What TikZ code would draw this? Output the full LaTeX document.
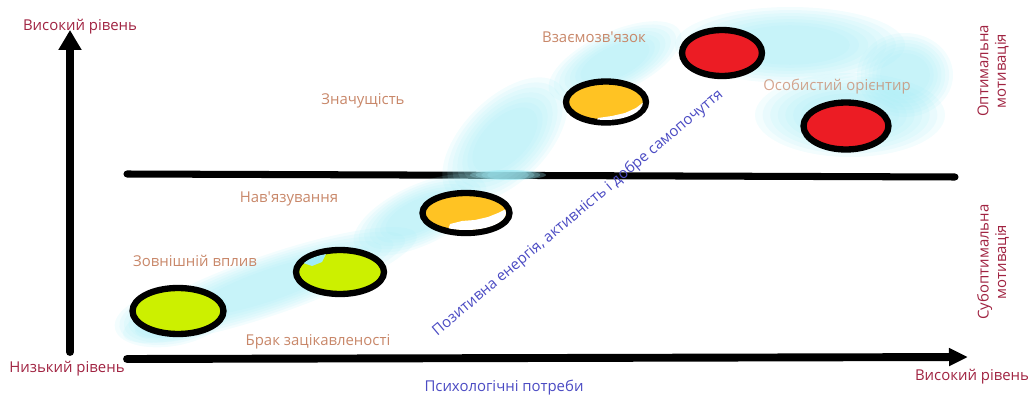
\documentclass[tikz,border=0pt]{standalone}
\usepackage{fontspec}
\setmainfont{Open Sans}[Ligatures=TeXOff]
\usetikzlibrary{positioning, arrows.meta, shapes.geometric}

\definecolor{levelred}{RGB}{160,35,65}
\definecolor{stagetan}{RGB}{200,135,105}
\definecolor{needblue}{RGB}{75,75,195}
\definecolor{discgreen}{RGB}{204,240,0}
\definecolor{discorange}{RGB}{255,195,35}
\definecolor{discred}{RGB}{236,28,36}
\definecolor{cloudcyan}{RGB}{160,235,245}

\begin{document}
\begin{tikzpicture}[
    x=0.02cm, y=-0.02cm,
    every node/.style={font=\fontsize{8.5}{10}\selectfont},
    axis/.style={line width=4.5pt, line cap=round},
    band/.style={line width=4pt, line cap=round},
    disc/.style={ellipse, draw, line width=3.6pt, inner sep=0pt},
    low/.style={disc, fill=discgreen},
    mid/.style={disc, fill=discorange},
    high/.style={disc, fill=discred},
    stage/.style={text=stagetan},
    level/.style={text=levelred},
    zone/.style={level, rotate=90, align=center},
    need/.style={text=needblue},
    cloud/.style={fill=cloudcyan, opacity=0.12}
]
    \useasboundingbox (0,0) rectangle (1029,395);

    % axes and the border between the two zones
    \coordinate (ybase) at (70,352);
    \coordinate (ytop) at (70,30);
    \coordinate (xbase) at (127,359);
    \coordinate (xtop) at (968,357);
    \coordinate (splitL) at (127,174);
    \coordinate (splitR) at (955,177);
    \draw[axis, -{Triangle[length=0.4cm, width=0.44cm]}] (ybase) -- (ytop);
    \draw[axis, -{Triangle[length=0.38cm, width=0.34cm]}] (xbase) -- (xtop);
    \draw[band] (splitL) -- (splitR);

    % painted cyan clouds
    \foreach \cx/\cy/\rx/\ry/\ang in {270/285/155/30/19, 172/318/58/28/10, 420/215/72/30/25,
        505/140/78/42/45, 615/62/72/30/25, 790/45/115/38/0,
        850/115/95/42/0, 905/75/48/42/0}{
        \foreach \k in {1.0,0.92,...,0.44}{
            \pgfmathsetmacro\rxx{\k*\rx}
            \pgfmathsetmacro\ryy{\k*\ry}
            \fill[cloud, rotate around={\ang:(\cx,\cy)}] (\cx,\cy) ellipse [x radius=\rxx, y radius=\ryy];
        }
    }
    % the cloud painted over the border line
    \foreach \k in {1.0,0.85,0.7,0.55}{
        \pgfmathsetmacro\rxx{\k*38}
        \fill[cloudcyan, opacity=0.3] (508,175) ellipse [x radius=\rxx, y radius=5];
    }

    % stages
    \node[low, minimum width=1.82cm, minimum height=0.92cm] (lack) at (178,311) {};
    \node[low, minimum width=1.76cm, minimum height=0.88cm] (outer) at (340,272) {};
    \node[mid, minimum width=1.74cm, minimum height=0.80cm] (impose) at (466,213) {};
    \node[mid, minimum width=1.60cm, minimum height=0.82cm] (meaning) at (606,102) {};
    \node[high, minimum width=1.60cm, minimum height=0.92cm] (link) at (722,53) {};
    \node[high, minimum width=1.70cm, minimum height=0.94cm] (guide) at (846,126) {};

    % unpainted patches
    \begin{scope}
        \clip (outer.center) ellipse [x radius=41, y radius=19];
        \fill[cloudcyan] (300,262) -- (310,255) -- (326,254) -- (322,262) -- (312,266) -- cycle;
    \end{scope}
    \begin{scope}
        \clip (impose.center) ellipse [x radius=40, y radius=17];
        \fill[white] (445,240) -- (450,224) -- (462,221) -- (475,220) -- (488,217) -- (498,213)
            -- (508,208) -- (520,201) -- (520,240) -- cycle;
    \end{scope}
    \begin{scope}
        \clip (meaning.center) ellipse [x radius=37, y radius=18];
        \fill[white] (592,130) -- (598,118) -- (612,116) -- (625,113) -- (636,108) -- (645,101)
            -- (655,96) -- (655,130) -- cycle;
    \end{scope}

    \node[stage] (lackT) at (318,342) {Брак зацікавленості};
    \node[stage] (outerT) at (195,261) {Зовнішній вплив};
    \node[stage] (imposeT) at (289,199) {Нав'язування};
    \node[stage] (meaningT) at (363,101) {Значущість};
    \node[stage] (linkT) at (594,37) {Взаємозв'язок};
    \node[stage, opacity=0.75] (guideT) at (837,87) {Особистий орієнтир};

    % axis and zone labels
    \node[level] (yhigh) at (80,27) {Високий рівень};
    \node[level] (ylow) at (67,369) {Низький рівень};
    \node[level] (xhigh) at (972,377) {Високий рівень};
    \node[need] (needs) at (504,388) {Психологічні потреби};
    \node[zone] (optimal) at (993,71) {Оптимальна\\мотивація};
    \node[zone] (subopt) at (993,262) {Субоптимальна\\мотивація};
    \node[need, rotate=40] (energy) at (578,213) {Позитивна енергія, активність і добре самопочуття};
\end{tikzpicture}
\end{document}
